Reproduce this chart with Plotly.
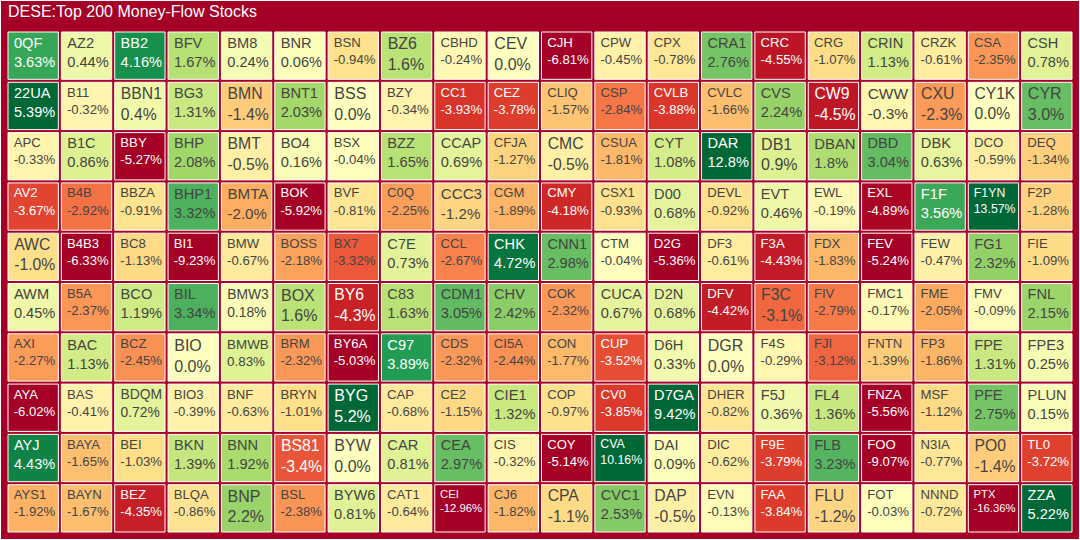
import plotly.graph_objects as go

TITLE = "DESE:Top 200 Money-Flow Stocks"

symbols = [
    "0QF", "22UA", "APC", "AV2", "AWC", "AWM", "AXI", "AYA", "AYJ", "AYS1",
    "AZ2", "B11", "B1C", "B4B", "B4B3", "B5A", "BAC", "BAS", "BAYA", "BAYN",
    "BB2", "BBN1", "BBY", "BBZA", "BC8", "BCO", "BCZ", "BDQM", "BEI", "BEZ",
    "BFV", "BG3", "BHP", "BHP1", "BI1", "BIL", "BIO", "BIO3", "BKN", "BLQA",
    "BM8", "BMN", "BMT", "BMTA", "BMW", "BMW3", "BMWB", "BNF", "BNN", "BNP",
    "BNR", "BNT1", "BO4", "BOK", "BOSS", "BOX", "BRM", "BRYN", "BS81", "BSL",
    "BSN", "BSS", "BSX", "BVF", "BX7", "BY6", "BY6A", "BYG", "BYW", "BYW6",
    "BZ6", "BZY", "BZZ", "C0Q", "C7E", "C83", "C97", "CAP", "CAR", "CAT1",
    "CBHD", "CC1", "CCAP", "CCC3", "CCL", "CDM1", "CDS", "CE2", "CEA", "CEI",
    "CEV", "CEZ", "CFJA", "CGM", "CHK", "CHV", "CI5A", "CIE1", "CIS", "CJ6",
    "CJH", "CLIQ", "CMC", "CMY", "CNN1", "COK", "CON", "COP", "COY", "CPA",
    "CPW", "CPX", "CRA1", "CRC", "CRG", "CRIN", "CRZK", "CSA", "CSH",
    "CSP", "CSUA", "CSX1", "CTM", "CUCA", "CUP", "CV0", "CVA", "CVC1",
    "CVLB", "CVLC", "CVS", "CW9", "CWW", "CXU", "CY1K", "CYR",
    "CYT", "D00", "D2G", "D2N", "D6H", "D7GA", "DAI", "DAP",
    "DAR", "DB1", "DBAN", "DBD", "DBK", "DCO", "DEQ",
    "DEVL", "DF3", "DFV", "DGR", "DHER", "DIC", "EVN",
    "EVT", "EWL", "EXL", "F1F", "F1YN", "F2P",
    "F3A", "F3C", "F4S", "F5J", "F9E", "FAA",
    "FDX", "FEV", "FEW", "FG1", "FIE",
    "FIV", "FJI", "FL4", "FLB", "FLU",
    "FMC1", "FME", "FMV", "FNL",
    "FNTN", "FNZA", "FOO", "FOT",
    "FP3", "FPE", "FPE3",
    "MSF", "N3IA", "NNND",
    "PFE", "PLUN",
    "PO0", "PTX",
    "TL0",
    "ZZA",
]

changes = [
    3.63, 5.39, -0.33, -3.67, -1.0, 0.45, -2.27, -6.02, 4.43, -1.92,
    0.44, -0.32, 0.86, -2.92, -6.33, -2.37, 1.13, -0.41, -1.65, -1.67,
    4.16, 0.4, -5.27, -0.91, -1.13, 1.19, -2.45, 0.72, -1.03, -4.35,
    1.67, 1.31, 2.08, 3.32, -9.23, 3.34, 0.0, -0.39, 1.39, -0.86,
    0.24, -1.4, -0.5, -2.0, -0.67, 0.18, 0.83, -0.63, 1.92, 2.2,
    0.06, 2.03, 0.16, -5.92, -2.18, 1.6, -2.32, -1.01, -3.4, -2.38,
    -0.94, 0.0, -0.04, -0.81, -3.32, -4.3, -5.03, 5.2, 0.0, 0.81,
    1.6, -0.34, 1.65, -2.25, 0.73, 1.63, 3.89, -0.68, 0.81, -0.64,
    -0.24, -3.93, 0.69, -1.2, -2.67, 3.05, -2.32, -1.15, 2.97, -12.96,
    0.0, -3.78, -1.27, -1.89, 4.72, 2.42, -2.44, 1.32, -0.32, -1.82,
    -6.81, -1.57, -0.5, -4.18, 2.98, -2.32, -1.77, -0.97, -5.14, -1.1,
    -0.45, -0.78, 2.76, -4.55, -1.07, 1.13, -0.61, -2.35, 0.78,
    -2.84, -1.81, -0.93, -0.04, 0.67, -3.52, -3.85, 10.16, 2.53,
    -3.88, -1.66, 2.24, -4.5, -0.3, -2.3, 0.0, 3.0,
    1.08, 0.68, -5.36, 0.68, 0.33, 9.42, 0.09, -0.5,
    12.8, 0.9, 1.8, 3.04, 0.63, -0.59, -1.34,
    -0.92, -0.61, -4.42, 0.0, -0.82, -0.62, -0.13,
    0.46, -0.19, -4.89, 3.56, 13.57, -1.28,
    -4.43, -3.1, -0.29, 0.36, -3.79, -3.84,
    -1.83, -5.24, -0.47, 2.32, -1.09,
    -2.79, -3.12, 1.36, 3.23, -1.2,
    -0.17, -2.05, -0.09, 2.15,
    -1.39, -5.56, -9.07, -0.03,
    -1.86, 1.31, 0.25,
    -1.12, -0.77, -0.72,
    2.75, 0.15,
    -1.4, -16.36,
    -3.72,
    5.22,
]

weights = [1] * len(symbols)

COLOR_MIN, COLOR_MAX = -5, 5

labels = [TITLE] + symbols
parents = [""] + [TITLE] * len(symbols)
values = [0] + weights
colors = [COLOR_MIN] + changes
texts = [""] + [f"{v}%" for v in changes]

TS = "\u2009"  # thin space: a little inner padding before cell text

fig = go.Figure(go.Treemap(
    labels=labels,
    parents=parents,
    values=values,
    text=texts,
    texttemplate=["%{label}"] + [f"{TS}%{{label}}<br>{TS}%{{text}}"] * len(symbols),
    branchvalues="remainder",
    sort=False,
    marker=dict(
        colors=colors,
        colorscale="RdYlGn",
        cmin=COLOR_MIN,
        cmax=COLOR_MAX,
        line=dict(color="white", width=1),
        pad=dict(t=32, l=8, r=8, b=8),
    ),
    tiling=dict(packing="squarify", squarifyratio=1, pad=3),
    pathbar=dict(visible=False),
    textfont=dict(family="Liberation Sans, Arial, sans-serif", size=16),
    textposition="top left",
    hoverinfo="skip",
))

fig.update_layout(
    width=1080,
    height=540,
    margin=dict(l=0, r=0, t=0, b=0),
    paper_bgcolor="#a50026",
    font=dict(family="Liberation Sans, Arial, sans-serif", size=16),
)

fig.write_html("out.html")
